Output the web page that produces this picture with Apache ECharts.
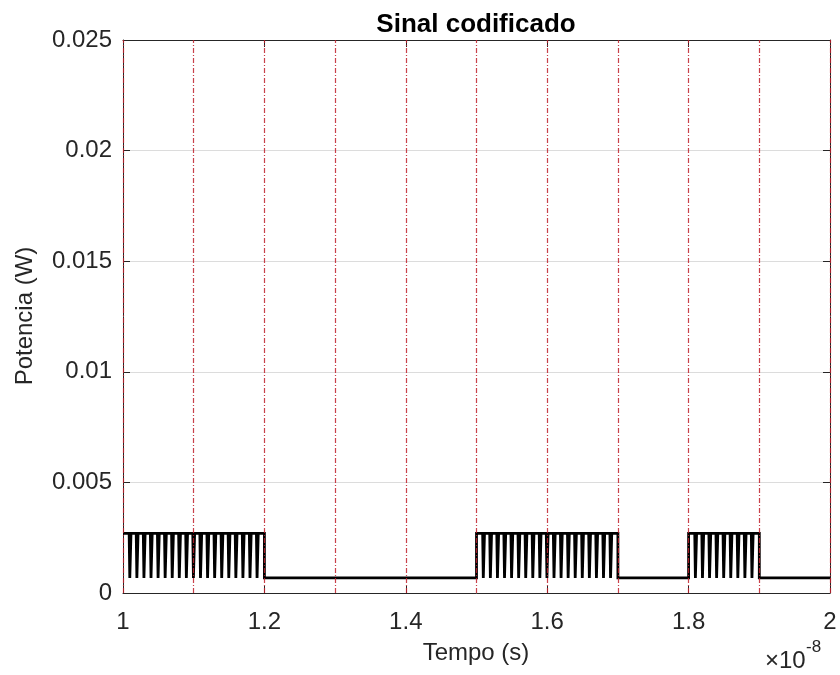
<!DOCTYPE html>
<html>
<head>
<meta charset="utf-8">
<script src="https://cdn.jsdelivr.net/npm/echarts@6/dist/echarts.min.js"></script>
<style>html,body{margin:0;padding:0;background:#fff}#c{width:840px;height:675px}</style>
</head>
<body>
<div id="c"></div>
<script>
// ---- data ----
const chartTitle = 'Sinal codificado';
const xLabel = 'Tempo (s)';
const yLabel = 'Potencia (W)';
const bits = [1, 1, 0, 0, 0, 1, 1, 0, 1, 0];     // one bit per 0.1 (x1e-8 s) slot
const tStart = 1.0;                               // x1e-8 s
const bitWidth = 0.1;
const dipsPerBit = 10;
const highLevel = 0.0027;                         // W
const lowLevel = 0.00068;                         // W
const dipHalfWidth = 0.0013;
const bitBoundaries = [1.0, 1.1, 1.2, 1.3, 1.4, 1.5, 1.6, 1.7, 1.8, 1.9, 2.0];
const xMin = 1, xMax = 2, xStep = 0.2;
const yMin = 0, yMax = 0.025, yStep = 0.005;

// ---- build the waveform from the bit pattern ----
const wave = [];
const dipStep = bitWidth / dipsPerBit;
bits.forEach((b, i) => {
  const s = tStart + i * bitWidth, e = s + bitWidth;
  const prev = i > 0 ? bits[i - 1] : 0;
  const next = i < bits.length - 1 ? bits[i + 1] : 0;
  if (b) {
    if (!prev) wave.push([s, highLevel]);
    for (let k = 0; k < dipsPerBit; k++) {
      if (k === 0 && !prev) continue;
      const c = s + k * dipStep;
      wave.push([c - dipHalfWidth, highLevel], [c - dipHalfWidth * 0.3, lowLevel],
                [c + dipHalfWidth * 0.3, lowLevel], [c + dipHalfWidth, highLevel]);
    }
    if (!next) wave.push([e, highLevel]);
  } else {
    wave.push([s, lowLevel], [e, lowLevel]);
  }
});

const FONT = 'Liberation Sans';
const axisCol = '#262626';
const chart = echarts.init(document.getElementById('c'), null, {renderer: 'canvas'});
chart.setOption({
  animation: false,
  backgroundColor: '#fff',
  grid: {left: 123, right: 10, top: 40, bottom: 82, containLabel: false},
  xAxis: [{
    type: 'value', min: xMin, max: xMax, interval: xStep, position: 'bottom',
    axisLine: {show: true, onZero: false, lineStyle: {color: axisCol, width: 1}},
    axisTick: {show: true, inside: true, length: 7, lineStyle: {color: axisCol}},
    axisLabel: {fontFamily: FONT, fontSize: 24, color: axisCol, margin: 17},
    splitLine: {show: false}
  }, {
    type: 'value', min: xMin, max: xMax, interval: xStep, position: 'top',
    axisLine: {show: true, onZero: false, lineStyle: {color: axisCol, width: 1}},
    axisTick: {show: true, inside: true, length: 7, lineStyle: {color: axisCol}},
    axisLabel: {show: false}, splitLine: {show: false}
  }],
  yAxis: [{
    type: 'value', min: yMin, max: yMax, interval: yStep, position: 'left',
    axisLine: {show: true, onZero: false, lineStyle: {color: axisCol, width: 1}},
    axisTick: {show: true, inside: true, length: 7, lineStyle: {color: axisCol}},
    axisLabel: {fontFamily: FONT, fontSize: 24, color: axisCol, margin: 11},
    splitLine: {show: true, lineStyle: {color: '#dcdcdc', width: 1}}
  }, {
    type: 'value', min: yMin, max: yMax, interval: yStep, position: 'right',
    axisLine: {show: true, onZero: false, lineStyle: {color: axisCol, width: 1}},
    axisTick: {show: true, inside: true, length: 7, lineStyle: {color: axisCol}},
    axisLabel: {show: false}, splitLine: {show: false}
  }],
  series: [{
    type: 'line', data: wave, showSymbol: false, symbol: 'none',
    lineStyle: {color: '#000', width: 2.8, join: 'miter'}, z: 3,
    markLine: {
      silent: true, symbol: 'none', label: {show: false}, z: 4,
      lineStyle: {color: '#c0202a', width: 1.2, type: [5, 2, 1, 2], opacity: 0.85},
      data: bitBoundaries.map(x => ({xAxis: x}))
    }
  }],
  graphic: [
    {type: 'text', x: 476, y: 25, style: {text: chartTitle, font: 'bold 26px "Liberation Sans"', fill: '#000', align: 'center', verticalAlign: 'middle'}},
    {type: 'text', x: 476, y: 653, style: {text: xLabel, font: '24px "Liberation Sans"', fill: axisCol, align: 'center', verticalAlign: 'middle'}},
    {type: 'text', x: 25, y: 316, rotation: Math.PI / 2, style: {text: yLabel, font: '24px "Liberation Sans"', fill: axisCol, align: 'center', verticalAlign: 'middle'}},
    {type: 'text', x: 765, y: 661, style: {text: '×10', font: '24px "Liberation Sans"', fill: axisCol, align: 'left', verticalAlign: 'middle'}},
    {type: 'text', x: 806, y: 647, style: {text: '-8', font: '17px "Liberation Sans"', fill: axisCol, align: 'left', verticalAlign: 'middle'}}
  ]
});
</script>
</body>
</html>
